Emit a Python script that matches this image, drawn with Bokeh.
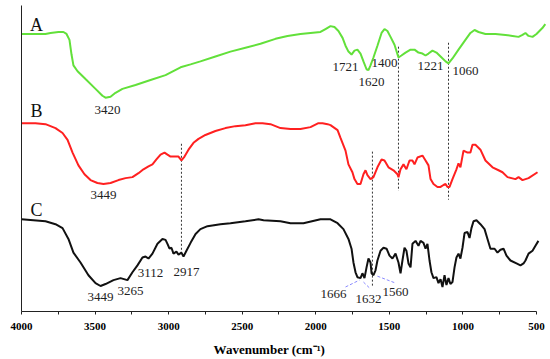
from bokeh.plotting import figure
from bokeh.models import Range1d, FixedTicker, ColumnDataSource
from bokeh.core.properties import value
from bokeh.embed import file_html
from bokeh.resources import INLINE

# ---- data (wavenumber cm-1, arbitrary transmittance) ----
wn_A = [4000, 3837, 3803, 3749, 3715, 3694, 3674, 3660, 3647, 3619, 3565, 3497, 3450, 3429, 3395, 3361,
        3314, 3225, 3123, 3021, 2919, 2851, 2784, 2682, 2580, 2478, 2376, 2274, 2192, 2104, 2036, 1968,
        1934, 1900, 1873, 1846, 1818, 1798, 1778, 1757, 1737, 1717, 1696, 1676, 1655, 1642, 1628, 1608,
        1581, 1553, 1533, 1513, 1492, 1465, 1438, 1418, 1390, 1356, 1329, 1302, 1275, 1254, 1234, 1207,
        1180, 1152, 1118, 1098, 1071, 1030, 983, 949, 921, 894, 847, 779, 711, 663, 622, 595, 575, 554,
        527, 500, 480, 460, 440]
T_A = [283, 283, 284, 285, 285, 283, 277, 262, 251, 245, 237, 227, 220, 218, 219, 223,
       227, 231, 236, 241, 249, 252, 255, 260, 265, 269, 273, 278, 281, 283, 284, 285,
       288, 291, 290, 286, 279, 271, 265, 262, 266, 267, 263, 255, 247, 246, 251, 259,
       271, 284, 288, 286, 280, 272, 259, 261, 264, 267, 267, 264, 263, 261, 263, 266,
       264, 260, 255, 253, 258, 267, 277, 284, 287, 285, 283, 283, 282, 281, 280, 282, 284, 281,
       280, 283, 286, 289, 293]

wn_B = [4000, 3905, 3837, 3769, 3721, 3687, 3653, 3613, 3572, 3531, 3484, 3443, 3395, 3341, 3293, 3246,
        3205, 3171, 3137, 3110, 3083, 3055, 3028, 3008, 2987, 2953, 2933, 2913, 2892, 2865, 2831, 2797,
        2750, 2682, 2614, 2546, 2478, 2410, 2362, 2308, 2240, 2172, 2104, 2036, 1982, 1954, 1920, 1900,
        1852, 1832, 1798, 1778, 1751, 1737, 1717, 1696, 1676, 1662, 1649, 1628, 1608, 1581, 1553, 1533,
        1506, 1472, 1445, 1438, 1424, 1404, 1384, 1363, 1343, 1329, 1309, 1275, 1254, 1234, 1220, 1200,
        1173, 1152, 1132, 1118, 1105, 1091, 1071, 1044, 1030, 1017, 996, 969, 949, 935, 915, 881, 847,
        799, 758, 731, 697, 643, 622, 595, 554, 493]
T_B = [192, 192, 191, 187, 182, 175, 162, 149, 140, 134, 131, 130, 131, 134, 136, 137,
       141, 145, 148, 150, 155, 160, 162, 160, 158, 158, 158, 154, 158, 165, 172, 176,
       180, 184, 187, 189, 190, 192, 192, 191, 187, 186, 186, 188, 192, 192, 191, 190,
       185, 177, 164, 150, 142, 135, 130, 130, 140, 144, 139, 135, 137, 147, 155, 154,
       147, 144, 140, 137, 145, 150, 145, 154, 154, 150, 157, 159, 154, 149, 135, 130,
       127, 127, 129, 130, 127, 127, 135, 145, 151, 147, 164, 162, 162, 170, 170, 165, 154,
       147, 144, 142, 137, 135, 137, 134, 136, 142]

wn_C = [4000, 3837, 3769, 3721, 3681, 3647, 3599, 3545, 3497, 3463, 3429, 3375, 3327, 3280, 3246, 3212,
        3178, 3157, 3137, 3110, 3076, 3042, 3021, 3008, 2994, 2981, 2967, 2947, 2933, 2913, 2899, 2879,
        2851, 2817, 2784, 2736, 2648, 2580, 2478, 2389, 2355, 2240, 2172, 2084, 1968, 1900, 1852, 1812,
        1778, 1757, 1744, 1730, 1717, 1696, 1683, 1669, 1655, 1642, 1628, 1621, 1608, 1594, 1581, 1560,
        1540, 1519, 1499, 1479, 1458, 1438, 1424, 1411, 1397, 1384, 1370, 1356, 1343, 1322, 1302, 1288,
        1268, 1254, 1241, 1227, 1214, 1200, 1180, 1166, 1152, 1139, 1125, 1112, 1098, 1085, 1071, 1057,
        1044, 1030, 1017, 1003, 989, 969, 955, 942, 928, 908, 881, 853, 833, 813, 785, 765, 745, 724,
        704, 677, 636, 609, 588, 575, 554, 527, 507, 487]
T_C = [94, 92, 89, 85, 74, 60, 50, 37, 29, 26, 28, 32, 34, 32, 40, 47,
       55, 56, 54, 59, 69, 74, 73, 69, 64, 65, 59, 61, 58, 60, 56, 62,
       70, 79, 84, 87, 89, 90, 92, 94, 93, 92, 90, 90, 94, 94, 90, 84,
       74, 64, 50, 40, 35, 34, 39, 34, 45, 54, 50, 39, 37, 42, 52, 62,
       65, 64, 57, 54, 59, 50, 39, 52, 65, 62, 49, 45, 69, 72, 67, 72,
       70, 64, 69, 52, 40, 34, 35, 29, 33, 25, 37, 27, 34, 28, 30, 45,
       55, 59, 54, 65, 80, 81, 75, 85, 92, 93, 89, 84, 74, 64, 64, 60, 63, 64,
       57, 52, 49, 47, 49, 52, 59, 62, 67, 72]

# peak annotations
peak_text = ["3420", "1721", "1620", "1400", "1221", "1060", "3449", "3449", "3265", "3112",
             "2917", "1666", "1632", "1560"]
peak_wn = [3416, 1798, 1621, 1533, 1220, 983, 3443, 3463, 3259, 3123, 2879, 1880, 1642, 1458]
peak_T = [205, 249, 234, 253, 250, 245, 119, 15, 21, 39, 40, 18, 13, 20]

# curve letters
letter_text = ["A", "B", "C"]
letter_wn = [3898, 3898, 3898]
letter_T = [292, 204, 104]

# vertical dashed guide lines
guide_wn = [2913, 1615, 1438, 1098]
guide_top = [171, 163, 270, 274]
guide_bot = [59, 25, 123, 114]

# blue dashed leader lines (1666, 1632, 1560)
lead_x0 = [1798, 1676, 1581]
lead_y0 = [25, 30, 36]
lead_x1 = [1703, 1628, 1458]
lead_y1 = [32, 23, 29]

major_ticks = [4000, 3500, 3000, 2500, 2000, 1500, 1000, 500]
minor_ticks = [3750, 3250, 2750, 2250, 1750, 1250, 750]
x_title = "Wavenumber (cm\u207b\u00b9)"

p = figure(width=550, height=359, output_backend="svg", toolbar_location=None,
           x_range=Range1d(4000, 432), y_range=Range1d(0, 312),
           min_border_left=21, min_border_right=4, min_border_top=5, min_border_bottom=42)
p.outline_line_color = None
p.xgrid.visible = False
p.ygrid.visible = False
p.background_fill_color = "white"

serif = "Liberation Serif"

p.xaxis.ticker = FixedTicker(ticks=major_ticks, minor_ticks=minor_ticks)
p.xaxis.bounds = (500, 4000)
p.xaxis.major_tick_in = 0
p.xaxis.major_tick_out = 3
p.xaxis.minor_tick_in = 0
p.xaxis.minor_tick_out = 3
p.xaxis.axis_line_color = "#222222"
p.xaxis.major_tick_line_color = "#222222"
p.xaxis.minor_tick_line_color = "#222222"
p.xaxis.major_label_text_font = serif
p.xaxis.major_label_text_font_style = "bold"
p.xaxis.major_label_text_font_size = "11px"
p.xaxis.major_label_text_color = "black"
p.xaxis.major_label_standoff = 8
p.xaxis.axis_label = x_title + "\u00a0" * 9
p.xaxis.axis_label_text_font = serif
p.xaxis.axis_label_text_font_style = "bold"
p.xaxis.axis_label_text_font_size = "13px"
p.xaxis.axis_label_text_color = "black"
p.xaxis.axis_label_standoff = 9

p.yaxis.ticker = FixedTicker(ticks=[])
p.yaxis.axis_line_color = "#222222"
p.yaxis.major_tick_line_color = None
p.yaxis.minor_tick_line_color = None
p.yaxis.major_label_standoff = 0

# guide lines
p.segment(x0=guide_wn, y0=guide_top, x1=guide_wn, y1=guide_bot,
          line_color="#333333", line_width=1, line_dash="2 2")
p.segment(x0=lead_x0, y0=lead_y0, x1=lead_x1, y1=lead_y1,
          line_color="#8a8aff", line_width=1, line_dash="3 2")

p.line(wn_A, T_A, line_color="#62E03A", line_width=2)
p.line(wn_B, T_B, line_color="#FF2020", line_width=2)
p.line(wn_C, T_C, line_color="#111111", line_width=2)

src_peaks = ColumnDataSource(dict(x=peak_wn, y=peak_T, t=peak_text))
p.text(x="x", y="y", text="t", source=src_peaks, text_font=value(serif),
       text_font_size="13px", text_align="center", text_baseline="middle", text_color="#222222")

src_letters = ColumnDataSource(dict(x=letter_wn, y=letter_T, t=letter_text))
p.text(x="x", y="y", text="t", source=src_letters, text_font=value(serif),
       text_font_size="18px", text_align="center", text_baseline="middle", text_color="#111111")

open("out.html", "w").write(file_html(p, INLINE))
